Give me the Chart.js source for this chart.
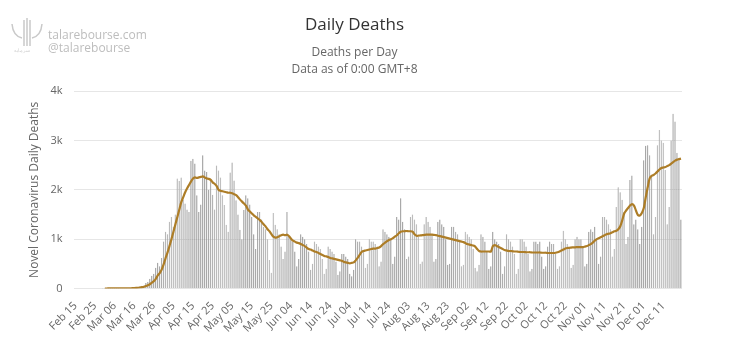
<!DOCTYPE html>
<html lang="en">
<head>
    <title>Daily Deaths</title>
    <script src="https://cdn.jsdelivr.net/npm/chart.js"></script>
    <style>
        body { margin: 0; background: #fff; }
        #wrap { width: 750px; height: 338px; position: relative; }
    </style>
</head>
<body>
<div id="wrap"><canvas id="chart"></canvas></div>
<script>
    // first day shown and number of days (Feb 15 .. Dec 20)
    const startDate = new Date(2020, 1, 15);
    const dayCount = 310;
    const monthNames = ['Jan', 'Feb', 'Mar', 'Apr', 'May', 'Jun', 'Jul', 'Aug', 'Sep', 'Oct', 'Nov', 'Dec'];

    // labelled ticks on the x axis (every 10th day)
    const tickLabels = ['Feb 15', 'Feb 25', 'Mar 06', 'Mar 16', 'Mar 26', 'Apr 05', 'Apr 15', 'Apr 25',
        'May 05', 'May 15', 'May 25', 'Jun 04', 'Jun 14', 'Jun 24', 'Jul 04', 'Jul 14', 'Jul 24',
        'Aug 03', 'Aug 13', 'Aug 23', 'Sep 02', 'Sep 12', 'Sep 22', 'Oct 02', 'Oct 12', 'Oct 22',
        'Nov 01', 'Nov 11', 'Nov 21', 'Dec 01', 'Dec 11'];

    // daily deaths, one row per week (Sat..Fri)
    const dailyDeaths = [
        0, 0, 0, 0, 0, 0, 0,
        0, 0, 0, 0, 0, 0, 0,
        1, 1, 4, 1, 3, 1, 3,
        2, 3, 4, 4, 8, 7, 10,
        8, 10, 18, 23, 30, 45, 54,
        59, 110, 131, 200, 260, 300, 420,
        520, 450, 620, 950, 1150, 1100, 1350,
        1450, 1250, 1500, 2230, 2180, 2250, 1800,
        1720, 1600, 1550, 2590, 2630, 2530, 1890,
        1550, 1700, 2700, 2390, 2360, 2000, 2190,
        1900, 1600, 2490, 2390, 2250, 1890, 1690,
        1290, 1150, 2350, 2550, 2190, 1790, 1500,
        1190, 1000, 1590, 1890, 1830, 1700, 1450,
        1100, 800, 1550, 1550, 1400, 1250, 1200,
        1000, 580, 320, 1530, 1290, 1200, 1100,
        850, 600, 750, 1550, 1050, 1000, 950,
        750, 450, 600, 1100, 1050, 1000, 900,
        750, 380, 500, 950, 900, 850, 800,
        600, 300, 400, 850, 800, 750, 700,
        550, 280, 350, 700, 700, 650, 600,
        300, 250, 380, 1000, 950, 950, 850,
        750, 420, 500, 1000, 950, 950, 900,
        850, 450, 550, 1200, 1150, 1100, 1050,
        1000, 500, 650, 1450, 1400, 1830, 1350,
        1200, 600, 650, 1450, 1500, 1400, 1300,
        1050, 500, 550, 1300, 1450, 1350, 1250,
        1100, 550, 600, 1350, 1400, 1300, 1250,
        1000, 480, 500, 1250, 1250, 1150, 1100,
        950, 450, 480, 1150, 1100, 1050, 1000,
        800, 420, 350, 480, 1100, 1050, 950,
        750, 400, 450, 1150, 1000, 950, 900,
        750, 300, 450, 1100, 1000, 950, 850,
        700, 300, 400, 1000, 1000, 950, 850,
        700, 350, 400, 950, 950, 900, 950,
        650, 400, 450, 850, 950, 900, 900,
        700, 400, 450, 950, 1170, 1000, 900,
        800, 420, 480, 1000, 1050, 1000, 1000,
        850, 450, 500, 1150, 1200, 1150, 1250,
        1000, 500, 650, 1450, 1450, 1400, 1300,
        1200, 650, 800, 1650, 2050, 1950, 1800,
        1550, 900, 1050, 2200, 2290, 1300, 1400,
        1200, 900, 1250, 2600, 2890, 2900, 2700,
        2300, 1100, 1450, 2900, 3210, 3000, 2950,
        2400, 1300, 1650, 3000, 3540, 3380, 2750,
        2650, 1400
    ];

    // 7-day average line
    const averageDeaths = [
        null, null, null, null, null, null, null,
        null, null, null, null, null, null, null,
        null, 1, 1, 2, 2, 2, 2,
        2, 2, 3, 3, 4, 4, 5,
        6, 7, 9, 12, 16, 21, 28,
        36, 51, 66, 87, 117, 150, 198,
        264, 313, 383, 490, 617, 731, 864,
        1000, 1150, 1300, 1450, 1600, 1750, 1850,
        1950, 2030, 2100, 2170, 2230, 2250, 2240,
        2250, 2260, 2270, 2250, 2230, 2220, 2200,
        2150, 2120, 2080, 2000, 1980, 1970, 1960,
        1950, 1940, 1940, 1930, 1910, 1890, 1850,
        1800, 1760, 1720, 1680, 1600, 1560, 1520,
        1480, 1450, 1420, 1390, 1350, 1300, 1260,
        1200, 1160, 1100, 1050, 1030, 1040, 1060,
        1080, 1090, 1080, 1090, 1060, 1010, 970,
        950, 930, 920, 900, 880, 860, 830,
        800, 790, 770, 750, 740, 720, 700,
        680, 660, 650, 640, 620, 610, 600,
        590, 580, 570, 560, 540, 530, 520,
        510, 520, 530, 570, 620, 680, 740,
        760, 770, 780, 790, 800, 810, 810,
        820, 830, 860, 900, 930, 960, 985,
        1000, 1020, 1050, 1080, 1120, 1150, 1160,
        1160, 1165, 1160, 1160, 1150, 1100, 1070,
        1070, 1075, 1080, 1085, 1090, 1090, 1090,
        1090, 1085, 1080, 1070, 1060, 1050, 1040,
        1030, 1020, 1010, 1000, 990, 980, 970,
        960, 950, 940, 920, 900, 890, 880,
        870, 850, 800, 760, 750, 750, 750,
        750, 750, 750, 860, 880, 860, 840,
        820, 800, 780, 770, 760, 760, 755,
        750, 750, 745, 740, 740, 740, 735,
        735, 735, 730, 730, 730, 730, 730,
        725, 725, 725, 720, 720, 720, 720,
        725, 735, 750, 770, 790, 810, 820,
        825, 830, 835, 835, 840, 840, 840,
        840, 850, 860, 880, 900, 930, 970,
        1000, 1020, 1040, 1060, 1080, 1100, 1110,
        1120, 1140, 1160, 1170, 1200, 1260, 1380,
        1520, 1580, 1630, 1680, 1710, 1680, 1580,
        1490, 1480, 1530, 1630, 1850, 2050, 2230,
        2280, 2300, 2330, 2370, 2410, 2440, 2450,
        2460, 2480, 2500, 2530, 2560, 2590, 2610,
        2620, 2630
    ];

    // category labels, one per day
    const dayLabels = [];
    for (let i = 0; i < dayCount; i++) {
        const d = new Date(startDate.getFullYear(), startDate.getMonth(), startDate.getDate() + i);
        dayLabels.push(monthNames[d.getMonth()] + ' ' + String(d.getDate()).padStart(2, '0'));
    }

    const FONT = "'Open Sans', sans-serif";

    // watermark in the top left corner
    const watermark = {
        id: 'watermark',
        afterDraw(chart) {
            const ctx = chart.ctx;
            ctx.save();
            ctx.strokeStyle = '#c9c9c9';
            ctx.lineWidth = 1.5;
            ctx.beginPath();
            ctx.moveTo(12, 24); ctx.quadraticCurveTo(13, 36, 22, 38);
            ctx.moveTo(42, 24); ctx.quadraticCurveTo(41, 36, 32, 38);
            ctx.moveTo(24, 20); ctx.lineTo(24, 46);
            ctx.moveTo(27, 18); ctx.lineTo(27, 46);
            ctx.moveTo(30, 20); ctx.lineTo(30, 46);
            ctx.stroke();
            ctx.fillStyle = '#cfcfcf';
            ctx.font = "5px " + FONT;
            ctx.fillText('سرمایه', 14, 52);
            ctx.fillStyle = '#bdbdbd';
            ctx.font = "12px " + FONT;
            ctx.textBaseline = 'middle';
            ctx.fillText('talarebourse.com', 48, 36);
            ctx.fillText('@talarebourse', 48, 49);
            ctx.restore();
        }
    };

    const chart = new Chart(document.getElementById('chart').getContext('2d'), {
        data: {
            labels: dayLabels,
            datasets: [{
                type: 'line',
                label: '7-day average',
                data: averageDeaths,
                borderColor: '#ad7d27',
                borderWidth: 2.2,
                pointRadius: 0,
                tension: 0.3,
                order: 1
            }, {
                type: 'bar',
                label: 'Daily deaths',
                data: dailyDeaths,
                backgroundColor: '#bebebe',
                borderColor: '#7c7c7c',
                borderWidth: { left: 0.8, right: 0, top: 0, bottom: 0 },
                barPercentage: 0.75,
                categoryPercentage: 1,
                order: 2
            }]
        },
        options: {
            responsive: true,
            maintainAspectRatio: false,
            animation: false,
            layout: { padding: { left: 27, right: 68, top: 0, bottom: 0 } },
            plugins: {
                legend: { display: false },
                tooltip: { enabled: false },
                title: {
                    display: true,
                    text: 'Daily Deaths',
                    color: '#333',
                    font: { family: FONT, size: 17, weight: 'normal' },
                    padding: { top: 15, bottom: 9 }
                },
                subtitle: {
                    display: true,
                    text: ['Deaths per Day', 'Data as of 0:00 GMT+8'],
                    color: '#666',
                    font: { family: FONT, size: 12, lineHeight: 1.4 },
                    padding: { bottom: 13 }
                }
            },
            scales: {
                x: {
                    grid: { display: false },
                    border: { display: false },
                    ticks: {
                        autoSkip: false,
                        minRotation: 45,
                        maxRotation: 45,
                        color: '#666',
                        font: { family: FONT, size: 11 },
                        callback: function (value, index) {
                            return index % 10 === 0 ? tickLabels[index / 10] : '';
                        }
                    }
                },
                y: {
                    min: 0,
                    max: 4000,
                    ticks: {
                        stepSize: 1000,
                        color: '#666',
                        font: { family: FONT, size: 11 },
                        padding: 12,
                        callback: function (value) {
                            return value === 0 ? '0' : (value / 1000) + 'k';
                        }
                    },
                    grid: { color: '#e6e6e6', drawTicks: false },
                    border: { display: false },
                    title: {
                        display: true,
                        text: 'Novel Coronavirus Daily Deaths',
                        color: '#666',
                        font: { family: FONT, size: 12 },
                        padding: { top: 0, bottom: -3 }
                    }
                }
            }
        },
        plugins: [watermark]
    });
</script>
</body>
</html>
